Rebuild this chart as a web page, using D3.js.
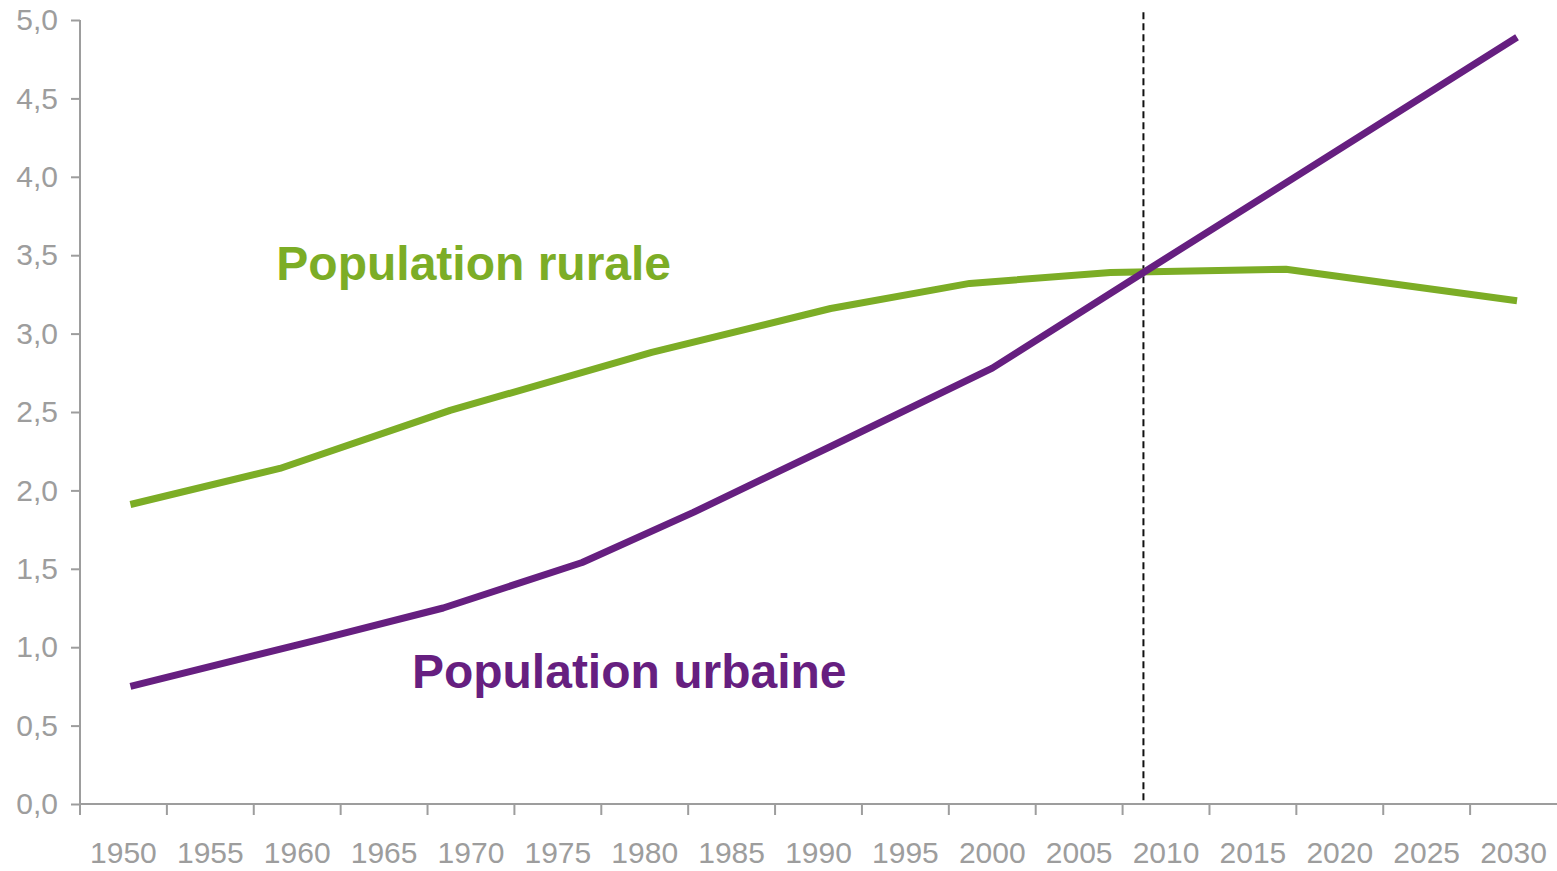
<!DOCTYPE html>
<html>
<head>
<meta charset="utf-8">
<script src="https://cdn.jsdelivr.net/npm/d3@7"></script>
<style>
  html, body { margin: 0; padding: 0; background: #fff; }
  svg { display: block; font-family: "Liberation Sans", Arial, sans-serif; }
  .axis path, .axis line { stroke: #9d9d9d; stroke-width: 2; }
  .axis text { fill: #9d9d9d; font-size: 30px; }
  .series-label { font-weight: bold; font-size: 48px; }
</style>
</head>
<body>
<svg id="chart"></svg>
<script>
// Population mondiale (milliards) — rurale vs urbaine, 1950–2030

const YEAR_LABELS = ["1950","1955","1960","1965","1970","1975","1980","1985","1990",
                     "1995","2000","2005","2010","2015","2020","2025","2030"];
const Y_TICKS = [0, 0.5, 1, 1.5, 2, 2.5, 3, 3.5, 4, 4.5, 5];

// values (year, milliards)
const RURAL_YEARS  = [1950.4, 1959.0, 1968.8, 1980.4, 1990.7, 1998.7, 2006.8, 2016.9, 2030.2];
const RURAL_VALUES = [1.91, 2.14, 2.51, 2.88, 3.16, 3.32, 3.39, 3.41, 3.21];

const URBAN_YEARS  = [1950.4, 1961.3, 1968.4, 1976.4, 1982.8, 1990.7, 2000.0, 2008.7, 2030.2];
const URBAN_VALUES = [0.75, 1.05, 1.25, 1.54, 1.86, 2.28, 2.78, 3.39, 4.89];

const CROSSOVER_YEAR = 2008.7;

const SERIES = [
  { name: "Population rurale",  years: RURAL_YEARS, values: RURAL_VALUES, color: "#7cad26", labelYear: 1958.8, labelValue: 3.34 },
  { name: "Population urbaine", years: URBAN_YEARS, values: URBAN_VALUES, color: "#661f80", labelYear: 1966.6, labelValue: 0.74 },
];

const W = 1557, H = 871;
const MARGIN = { top: 20, right: 0, bottom: 67, left: 80 };
const innerW = W - MARGIN.left - MARGIN.right;
const innerH = H - MARGIN.top - MARGIN.bottom;

const svg = d3.select("#chart").attr("width", W).attr("height", H);
const g = svg.append("g").attr("transform", `translate(${MARGIN.left},${MARGIN.top})`);

// category axis for the labels, linear year scale for the lines
const xBand = d3.scaleBand().domain(YEAR_LABELS).range([0, innerW]).padding(0);
const x = d3.scaleLinear().domain([1947.5, 2032.5]).range([0, innerW]);
const y = d3.scaleLinear().domain([0, 5]).range([innerH, 0]);

// y axis
const yAx = g.append("g").attr("class", "axis y-axis")
  .call(d3.axisLeft(y).tickValues(Y_TICKS).tickSize(9).tickSizeOuter(0).tickPadding(13)
    .tickFormat(d => d3.format(".1f")(d).replace(".", ",")));
yAx.select(".domain").attr("d", `M0,0V${innerH + 11}`);

// x axis: ticks on band boundaries, labels at band centres
const xAx = g.append("g").attr("class", "axis x-axis")
  .attr("transform", `translate(0,${innerH})`)
  .call(d3.axisBottom(xBand).tickSize(0).tickPadding(38));
xAx.select(".domain").attr("d", `M0,0H${innerW}`);
xAx.selectAll(".boundary")
  .data(YEAR_LABELS.slice(1))
  .join("line")
  .attr("class", "boundary")
  .attr("x1", d => xBand(d)).attr("x2", d => xBand(d))
  .attr("y1", 0).attr("y2", 11);

// crossover marker
g.append("line")
  .attr("x1", x(CROSSOVER_YEAR)).attr("x2", x(CROSSOVER_YEAR))
  .attr("y1", y(5.05)).attr("y2", y(0))
  .attr("stroke", "#111").attr("stroke-width", 2)
  .attr("stroke-dasharray", "7,4");

// lines
const line = d3.line()
  .x(d => x(d[0]))
  .y(d => y(d[1]));

g.selectAll("path.series")
  .data(SERIES)
  .join("path")
  .attr("class", "series")
  .attr("fill", "none")
  .attr("stroke", d => d.color)
  .attr("stroke-width", 7)
  .attr("stroke-linejoin", "round")
  .attr("d", d => line(d.years.map((yr, i) => [yr, d.values[i]])));

// series labels
g.selectAll("text.series-label")
  .data(SERIES)
  .join("text")
  .attr("class", "series-label")
  .attr("x", d => x(d.labelYear))
  .attr("y", d => y(d.labelValue))
  .attr("fill", d => d.color)
  .text(d => d.name);
</script>
</body>
</html>
